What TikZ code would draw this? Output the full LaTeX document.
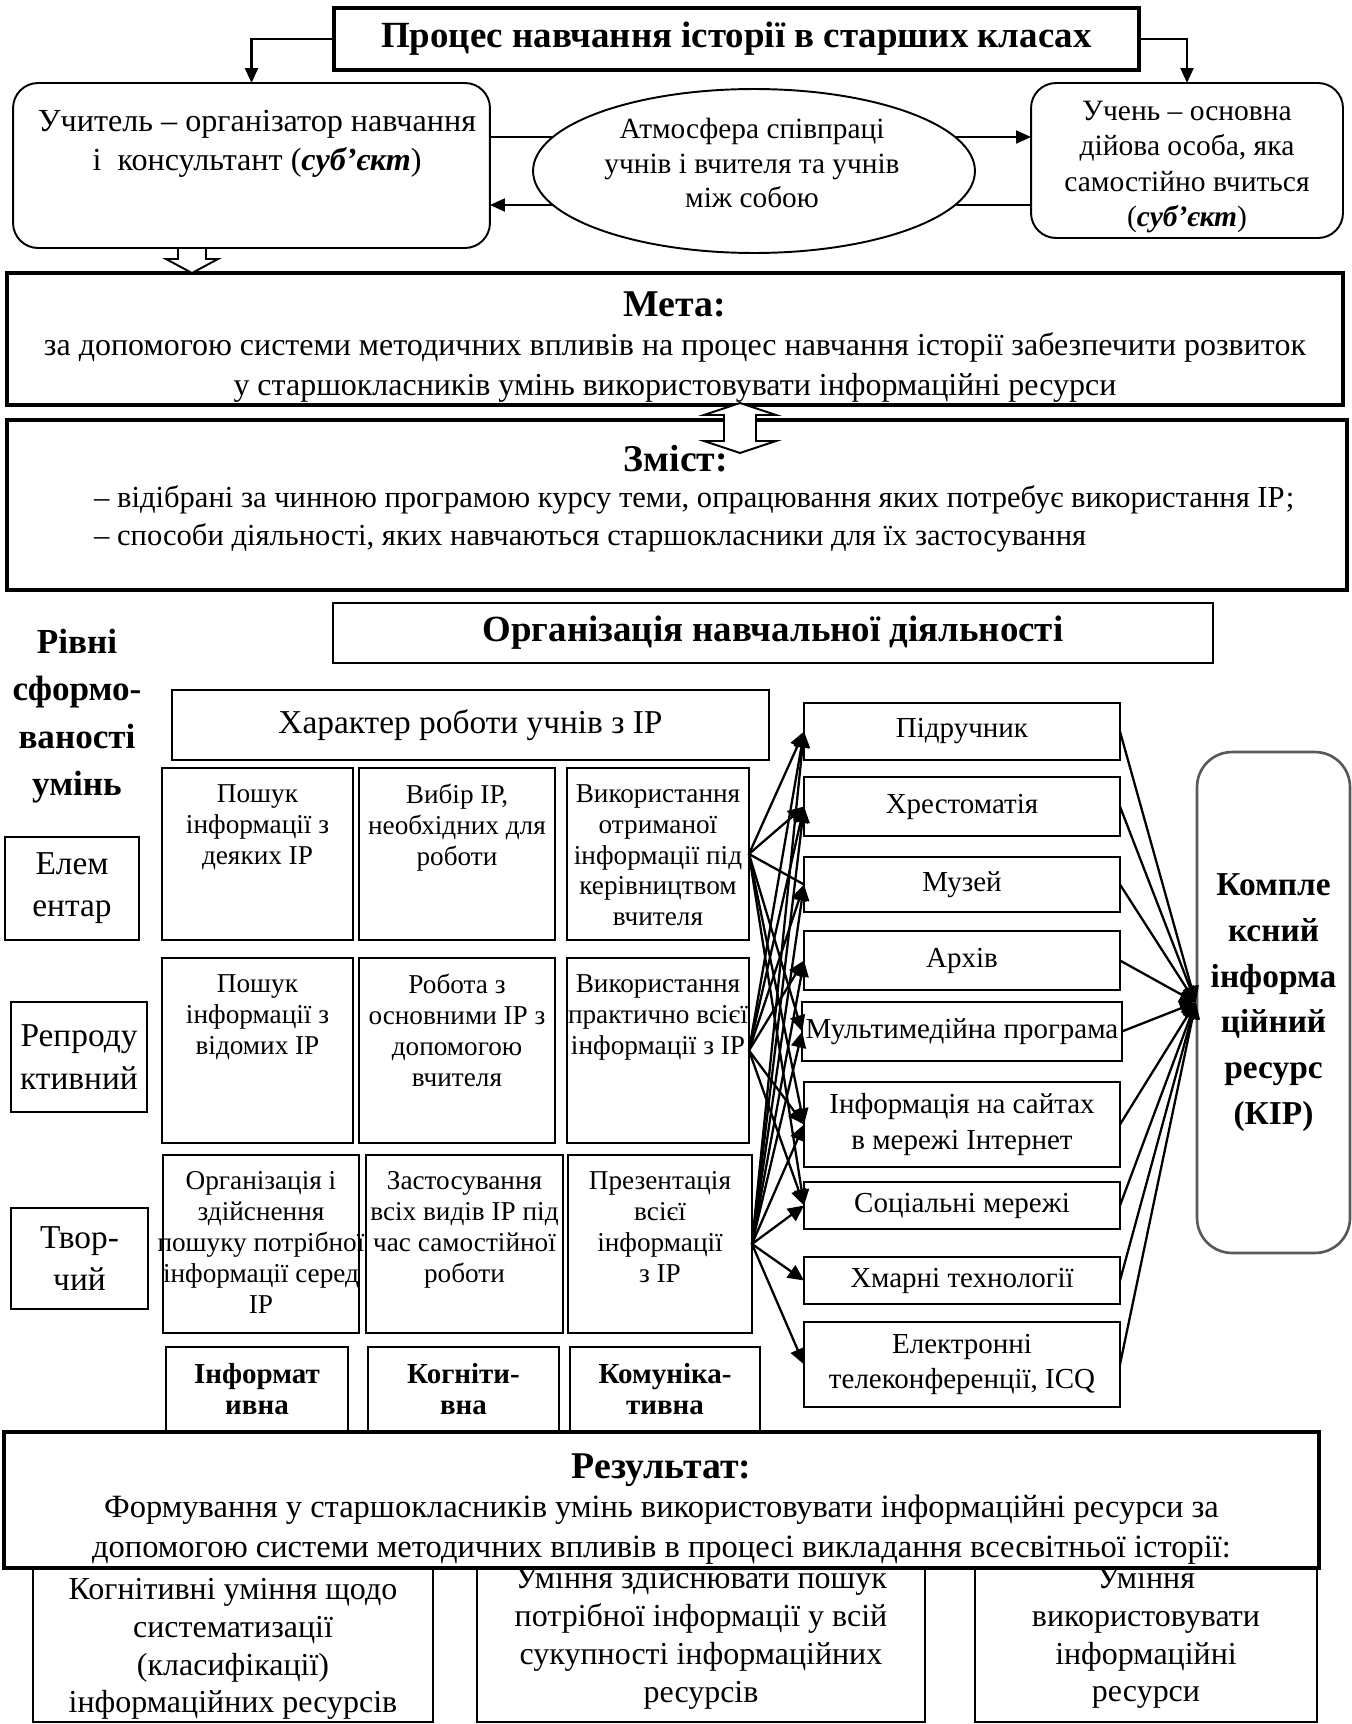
\documentclass[tikz,border=0pt]{standalone}
\usepackage{fontspec}
\setmainfont{Liberation Serif}
\usetikzlibrary{arrows.meta,shapes.geometric,positioning}
\pgfdeclarelayer{background}
\pgfsetlayers{background,main}
\tikzset{
  box/.style={draw, line width=1.1pt, outer sep=0pt, inner sep=2pt, align=center, font=\fontsize{17}{21}\selectfont},
  thickbox/.style={box, line width=2pt},
  roundbox/.style={box, rounded corners=0.5cm},
  cell/.style={draw, line width=1.1pt, outer sep=0pt, inner sep=0pt},
  celltext/.style={align=center, inner sep=0pt, font=\fontsize{15.5}{17.6}\selectfont},
  res/.style={box, minimum width=6.32cm, font=\fontsize{16.5}{20}\selectfont},
  linkarrow/.style={line width=1.2pt, -{Triangle[length=0.3cm,width=0.26cm]}},
  fanarrow/.style={line width=1.3pt, -{Triangle[length=0.32cm,width=0.3cm]}},
  fanline/.style={line width=1.3pt},
  hollow/.style={draw, line width=1.1pt, fill=white, line join=miter}
}
\newcommand{\gridcell}[6]{\node[cell, anchor=north, minimum width=#4cm, minimum height=#5cm] (#1) at (#2,#3) {};
        \node[celltext, below=0.32cm of #1.north] (#1t) {#6};}

\begin{document}
\begin{tikzpicture}[x=0.02cm, y=-0.02cm]
\useasboundingbox (0,0) rectangle (1352,1724);

\node[thickbox, minimum width=16.1cm, minimum height=1.24cm, font=\bfseries\fontsize{21}{25}\selectfont] (title) at (736.5,39) {Процес навчання історії в старших класах};

\node[roundbox, minimum width=9.54cm, minimum height=3.3cm] (teacher) at (251.5,165.5) {};
\node[align=center, font=\fontsize{18.3}{22}\selectfont] (teachertext) at (257,144) {Учитель – організатор навчання\\і~ консультант (\textbf{\textit{суб’єкт}})};
\node[roundbox, minimum width=6.24cm, minimum height=3.1cm] (pupil) at (1187,160.5) {};
\node[align=center, font=\fontsize{16.8}{20}\selectfont] (pupiltext) at (1187,167) {Учень – основна\\дійова особа, яка\\самостійно вчиться\\(\textbf{\textit{суб’єкт}})};
\node[ellipse, draw, line width=1.1pt, fill=white, inner sep=0pt, minimum width=8.84cm, minimum height=3.28cm] (atmos) at (754,171) {};
\node[align=center, font=\fontsize{16.7}{19.5}\selectfont] (atmostext) at (752,163) {Атмосфера співпраці\\учнів і вчителя та учнів\\між собою};

\draw[linkarrow] (title.west) -| (teacher.north);
\draw[linkarrow] (title.east) -| (pupil.north);
\coordinate (upper) at (0,137);
\coordinate (lower) at (0,205);
\begin{pgfonlayer}{background}
\draw[linkarrow] (teacher.east |- upper) -- (pupil.west |- upper);
\draw[linkarrow] (pupil.west |- lower) -- (teacher.east |- lower);
\end{pgfonlayer}

\node[thickbox, minimum width=26.72cm, minimum height=2.64cm] (meta) at (675,339) {};
\node[align=center, font=\fontsize{18.2}{22.5}\selectfont] (metatext) at (675,347) {\textbf{\fontsize{21.5}{24}\selectfont Мета:}\\за допомогою системи методичних впливів на процес навчання історії забезпечити розвиток\\у старшокласників умінь використовувати інформаційні ресурси};
\draw[hollow] (178,248) -- (178,259) -- (166,259) -- (192,273) -- (218,259) -- (206,259) -- (206,248) -- cycle;

\node[thickbox, minimum width=26.8cm, minimum height=3.4cm] (zmist) at (677,505) {};
\draw[hollow] (740,403) -- (776,415) -- (756,415) -- (756,441) -- (776,441) -- (740,453) -- (704,441) -- (724,441) -- (724,415) -- (704,415) -- cycle;
\node[font=\bfseries\fontsize{21.5}{24}\selectfont] (zmisthead) at (676,459) {Зміст:};
\node[anchor=west, align=left, font=\fontsize{17.4}{22}\selectfont] (zmistlist) at (88,519) {– відібрані за чинною програмою курсу теми, опрацювання яких потребує використання ІР;\\– способи діяльності, яких навчаються старшокласники для їх застосування};

\node[box, line width=1.6pt, minimum width=17.6cm, minimum height=1.2cm, font=\bfseries\fontsize{21}{24}\selectfont] (org) at (773,633) {Організація навчальної діяльності};
\node[align=center, font=\bfseries\fontsize{20}{27}\selectfont] (rivni) at (77,716) {Рівні\\сформо-\\ваності\\умінь};
\node[box, minimum width=11.94cm, minimum height=1.4cm, font=\fontsize{19}{23}\selectfont] (charakter) at (470.5,725) {Характер роботи учнів з ІР};

\gridcell{poshuka}{257.5}{768}{3.82}{3.44}{Пошук\\інформації з\\деяких ІР}
\gridcell{vybir}{457}{768}{3.92}{3.44}{Вибір ІР,\\необхідних для\\роботи}
\gridcell{vykora}{658}{768}{3.64}{3.44}{Використання\\отриманої\\інформації під\\керівництвом\\вчителя}

\gridcell{poshukb}{257.5}{958}{3.82}{3.7}{Пошук\\інформації з\\відомих ІР}
\gridcell{robota}{457}{958}{3.92}{3.7}{Робота з\\основними ІР з\\допомогою\\вчителя}
\gridcell{vykorb}{658}{958}{3.64}{3.7}{Використання\\практично всієї\\інформації з ІР}

\gridcell{organiz}{261}{1155}{3.92}{3.56}{Організація і\\здійснення\\пошуку потрібної\\інформації серед\\ІР}
\gridcell{zastos}{464.5}{1155}{3.94}{3.56}{Застосування\\всіх видів ІР під\\час самостійної\\роботи}
\gridcell{prezent}{660}{1155}{3.68}{3.56}{Презентація\\всієї\\інформації\\з ІР}

\gridcell{inform}{257}{1347}{3.64}{1.9}{\textbf{\fontsize{16.5}{19}\selectfont Інформат}\\\textbf{\fontsize{16.5}{19}\selectfont ивна}}
\gridcell{kognit}{463.5}{1347}{3.82}{1.9}{\textbf{\fontsize{16.5}{19}\selectfont Когніти-}\\\textbf{\fontsize{16.5}{19}\selectfont вна}}
\gridcell{komun}{665}{1347}{3.8}{1.9}{\textbf{\fontsize{16.5}{19}\selectfont Комуніка-}\\\textbf{\fontsize{16.5}{19}\selectfont тивна}}

\node[box, minimum width=2.68cm, minimum height=2.06cm, font=\fontsize{19}{24}\selectfont] (elem) at (72,888.5) {Елем\\ентар};
\node[box, minimum width=2.72cm, minimum height=2.2cm, font=\fontsize{19}{24}\selectfont] (repr) at (79,1057) {Репроду\\ктивний};
\node[box, minimum width=2.74cm, minimum height=2.02cm, font=\fontsize{19}{24}\selectfont] (tvor) at (79.5,1258.5) {Твор-\\чий};

\node[res, minimum height=1.14cm] (pidruch) at (962,731.5) {Підручник};
\node[res, minimum height=1.18cm] (khrest) at (962,806.5) {Хрестоматія};
\node[res, minimum height=1.1cm] (muzei) at (962,884.5) {Музей};
\node[res, minimum height=1.18cm] (arkhiv) at (962,960.5) {Архів};
\node[res, minimum height=1.18cm] (multim) at (962,1031.5) {Мультимедійна програма};
\node[res, minimum height=1.7cm] (sait) at (962,1124.5) {Інформація на сайтах\\в мережі Інтернет};
\node[res, minimum height=0.94cm] (social) at (962,1205.5) {Соціальні мережі};
\node[res, minimum height=0.94cm] (khmar) at (962,1280.5) {Хмарні технології};
\node[res, minimum height=1.7cm] (telekon) at (962,1364.5) {Електронні\\телеконференції, ICQ};

\node[draw=black!65, line width=1.5pt, rounded corners=0.7cm, minimum width=3.06cm, minimum height=10.02cm, align=center, font=\bfseries\fontsize{19}{26}\selectfont] (kip) at (1273.5,1002.5) {Компле\\ксний\\інформа\\ційний\\ресурс\\(КІР)};

\draw[fanarrow] (vykora.east) -- (pidruch.west);
\draw[fanarrow] (vykora.east) -- (khrest.west);
\draw[fanline] (vykora.east) -- (muzei.west);
\draw[fanarrow] (vykora.east) -- (multim.west);
\draw[fanarrow] (vykora.east) -- (sait.west);
\draw[fanarrow] (vykora.east) -- (social.west);

\draw[fanarrow] (vykorb.east) -- (pidruch.west);
\draw[fanarrow] (vykorb.east) -- (khrest.west);
\draw[fanarrow] (vykorb.east) -- (muzei.west);
\draw[fanarrow] (vykorb.east) -- (arkhiv.west);
\draw[fanarrow] (vykorb.east) -- (sait.west);
\draw[fanarrow] (vykorb.east) -- (social.west);

\draw[fanarrow] (prezent.east) -- (pidruch.west);
\draw[fanarrow] (prezent.east) -- (khrest.west);
\draw[fanarrow] (prezent.east) -- (muzei.west);
\draw[fanarrow] (prezent.east) -- (arkhiv.west);
\draw[fanarrow] (prezent.east) -- (multim.west);
\draw[fanarrow] (prezent.east) -- (sait.west);
\draw[fanarrow] (prezent.east) -- (social.west);
\draw[fanarrow] (prezent.east) -- (khmar.west);
\draw[fanarrow] (prezent.east) -- (telekon.west);

\draw[fanarrow] (pidruch.east) -- (kip.west);
\draw[fanarrow] (khrest.east) -- (kip.west);
\draw[fanarrow] (muzei.east) -- (kip.west);
\draw[fanarrow] (arkhiv.east) -- (kip.west);
\draw[fanarrow] (multim.east) -- (kip.west);
\draw[fanarrow] (sait.east) -- (kip.west);
\draw[fanarrow] (social.east) -- (kip.west);
\draw[fanarrow] (khmar.east) -- (kip.west);
\draw[fanarrow] (telekon.east) -- (kip.west);

\node[cell, anchor=south, minimum width=8cm, minimum height=3.6cm] (kognum) at (233,1722) {};
\node[align=center, font=\fontsize{18.2}{21.5}\selectfont] (kognumt) at (233,1649) {Когнітивні уміння щодо\\систематизації\\(класифікації)\\інформаційних ресурсів};
\node[cell, anchor=south, minimum width=8.96cm, minimum height=3.6cm] (poshum) at (701,1722) {};
\node[align=center, font=\fontsize{18.2}{21.5}\selectfont] (poshumt) at (701,1638) {Уміння здійснювати пошук\\потрібної інформації у всій\\сукупності інформаційних\\ресурсів};
\node[cell, anchor=south, minimum width=6.84cm, minimum height=3.6cm] (vykum) at (1146,1722) {};
\node[align=center, font=\fontsize{18.2}{21.5}\selectfont] (vykumt) at (1146,1638) {Уміння\\використовувати\\інформаційні\\ресурси};

\node[thickbox, fill=white, minimum width=26.3cm, minimum height=2.72cm] (result) at (661.5,1500) {};
\node[align=center, font=\fontsize{18.5}{22.5}\selectfont] (resulttext) at (661.5,1509) {\textbf{\fontsize{21.5}{24}\selectfont Результат:}\\Формування у старшокласників умінь використовувати інформаційні ресурси за\\допомогою системи методичних впливів в процесі викладання всесвітньої історії:};

\end{tikzpicture}
\end{document}
